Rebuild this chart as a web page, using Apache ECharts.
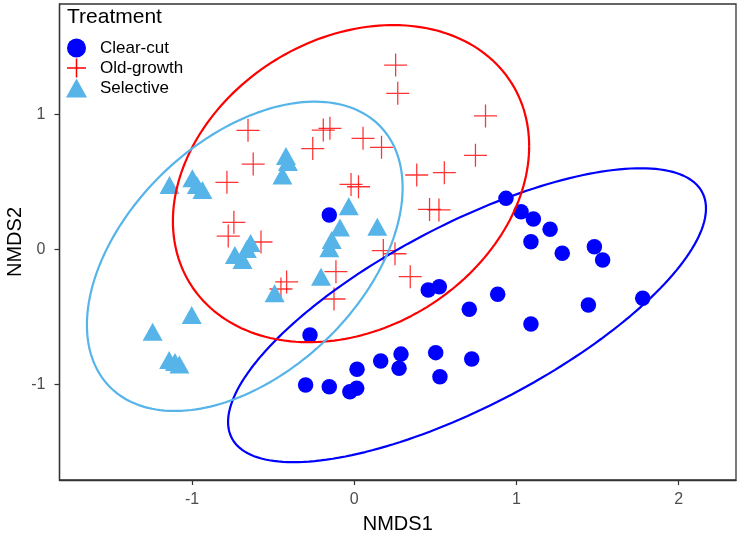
<!DOCTYPE html>
<html><head><meta charset="utf-8">
<script src="https://cdn.jsdelivr.net/npm/echarts@6/dist/echarts.min.js"></script>
<style>html,body{margin:0;padding:0;background:#fff}#c{width:742px;height:538px}</style>
</head><body><div id="c"></div>
<script>
// ---- data (NMDS scores) ----
const clearCutX = [-0.154,0.935,1.028,1.104,1.207,1.089,1.282,1.480,1.531,0.456,0.524,0.884,0.709,1.443,1.778,1.089,-0.273,0.288,0.502,0.163,0.276,0.724,0.017,0.528,-0.300,-0.154,-0.027,0.015];
const clearCutY = [0.254,0.377,0.278,0.224,0.148,0.056,-0.030,0.019,-0.079,-0.301,-0.277,-0.333,-0.444,-0.412,-0.363,-0.553,-0.634,-0.776,-0.765,-0.827,-0.881,-0.812,-0.888,-0.943,-1.004,-1.017,-1.054,-1.029];
const oldGrowthX = [0.255,0.268,0.809,-0.655,-0.191,-0.150,0.054,0.168,-0.256,0.747,-0.623,0.385,0.555,-0.785,-0.020,0.026,0.464,0.522,-0.742,-0.777,-0.575,0.179,0.251,0.345,-0.113,-0.417,-0.452,-0.125];
const oldGrowthY = [1.364,1.155,0.987,0.881,0.883,0.896,0.822,0.755,0.746,0.696,0.631,0.550,0.567,0.496,0.480,0.463,0.295,0.291,0.200,0.098,0.054,-0.009,-0.033,-0.203,-0.166,-0.242,-0.294,-0.368];
const selectiveX = [-1.139,-0.998,-0.970,-0.936,-0.421,-0.409,-0.443,-0.034,-0.088,-0.139,-0.154,0.142,-0.639,-0.662,-0.736,-0.689,-0.205,-0.491,-1.002,-1.243,-1.141,-1.105,-1.078];
const selectiveY = [0.476,0.526,0.476,0.439,0.691,0.646,0.546,0.318,0.161,0.069,0.007,0.167,0.047,0.002,-0.042,-0.079,-0.203,-0.326,-0.486,-0.610,-0.819,-0.834,-0.853];

const groups = ['Clear-cut','Old-growth','Selective'];
// 95% ellipses: centre, x half-width, y half-height, x-y covariance term
const ellipseCx = [0.695,-0.020,-0.675];
const ellipseCy = [-0.488,0.486,-0.052];
const ellipseW  = [1.473,1.098,0.973];
const ellipseH  = [1.088,1.174,1.145];
const ellipseSxy= [1.164,0.305,0.494];

const xTicks = [-1,0,1,2];
const yTicks = [-1,0,1];

// ---- styles ----
const colors = ['#0000FF','#FF0000','#56B4E9'];
const FONT = '"Liberation Sans", Arial, sans-serif';
const crossPath = 'path://M0,9.45H20V10.55H0Z M9.45,0H10.55V20H9.45Z';
const crossPathLegend = 'path://M0,9.2H20V10.8H0Z M9.2,0H10.8V20H9.2Z';

function pairs(xs, ys){ return xs.map((x,i)=>[x, ys[i]]); }
function ellipse(k){
  const W = ellipseW[k], H = ellipseH[k], s = ellipseSxy[k];
  const l21 = s / W, l22 = Math.sqrt(H*H - l21*l21);
  const pts = [];
  for (let i = 0; i <= 200; i++){
    const t = 2*Math.PI*i/200;
    pts.push([ellipseCx[k] + W*Math.cos(t), ellipseCy[k] + l21*Math.cos(t) + l22*Math.sin(t)]);
  }
  return pts;
}

const chart = echarts.init(document.getElementById('c'), null, {renderer:'canvas'});
const option = {
  animation: false,
  backgroundColor: '#fff',
  title: {
    text: 'Treatment', left: 67, top: 7, padding: 0,
    textStyle: {fontSize: 21, fontWeight: 'normal', color: '#000', fontFamily: FONT}
  },
  legend: {
    orient: 'vertical', left: 66, top: 38.5, padding: 0,
    itemWidth: 21, itemHeight: 19, itemGap: 1,
    textStyle: {fontSize: 17, color: '#000', fontFamily: FONT, padding: [0,0,0,8]},
    data: [
      {name: groups[0], icon: 'circle', itemStyle: {color: colors[0], opacity: 1}},
      {name: groups[1], icon: crossPathLegend, itemStyle: {color: colors[1], opacity: 1}},
      {name: groups[2], icon: 'triangle', itemStyle: {color: colors[2], opacity: 1}}
    ]
  },
  grid: {
    left: 59.5, right: 6, top: 4, bottom: 58, show: true,
    borderColor: '#333', borderWidth: 1.3, backgroundColor: 'transparent',
    outerBoundsMode: 'none'
  },
  xAxis: {
    type: 'value', min: -1.817, max: 2.353,
    name: 'NMDS1', nameLocation: 'middle', nameGap: 34, nameMoveOverlap: false,
    nameTextStyle: {fontSize: 20, color: '#000', fontFamily: FONT},
    axisLine: {show: true, onZero: false, lineStyle: {color: '#333', width: 1.3}},
    axisTick: {show: true, length: 5, customValues: xTicks, lineStyle: {color: '#333', width: 1.2}},
    axisLabel: {customValues: xTicks, fontSize: 16, color: '#4D4D4D', margin: 12, fontFamily: FONT},
    splitLine: {show: false}
  },
  yAxis: {
    type: 'value', min: -1.708, max: 1.816,
    name: 'NMDS2', nameLocation: 'middle', nameGap: 34, nameRotate: 90, nameMoveOverlap: false,
    nameTextStyle: {fontSize: 20, color: '#000', fontFamily: FONT},
    axisLine: {show: true, onZero: false, lineStyle: {color: '#333', width: 1.3}},
    axisTick: {show: true, length: 5, customValues: yTicks, lineStyle: {color: '#333', width: 1.2}},
    axisLabel: {customValues: yTicks, fontSize: 16, color: '#4D4D4D', margin: 14, fontFamily: FONT},
    splitLine: {show: false}
  },
  series: [
    {name: groups[0], type: 'scatter', symbol: 'circle', symbolSize: 15.5,
     itemStyle: {color: colors[0], opacity: 1}, data: pairs(clearCutX, clearCutY), z: 2},
    {name: groups[1], type: 'scatter', symbol: crossPath, symbolSize: 23,
     itemStyle: {color: colors[1], opacity: 0.8}, data: pairs(oldGrowthX, oldGrowthY), z: 2},
    {name: groups[2], type: 'scatter', symbol: 'triangle', symbolSize: [20,18],
     itemStyle: {color: colors[2], opacity: 1}, data: pairs(selectiveX, selectiveY), z: 2},
    ...[0,1,2].map(k => ({
      name: groups[k] + ' ellipse', type: 'line', data: ellipse(k), showSymbol: false, symbol: 'none',
      smooth: false, silent: true, z: 3,
      lineStyle: {color: colors[k], width: 2.2}
    }))
  ]
};
chart.setOption(option);
</script>
</body></html>
